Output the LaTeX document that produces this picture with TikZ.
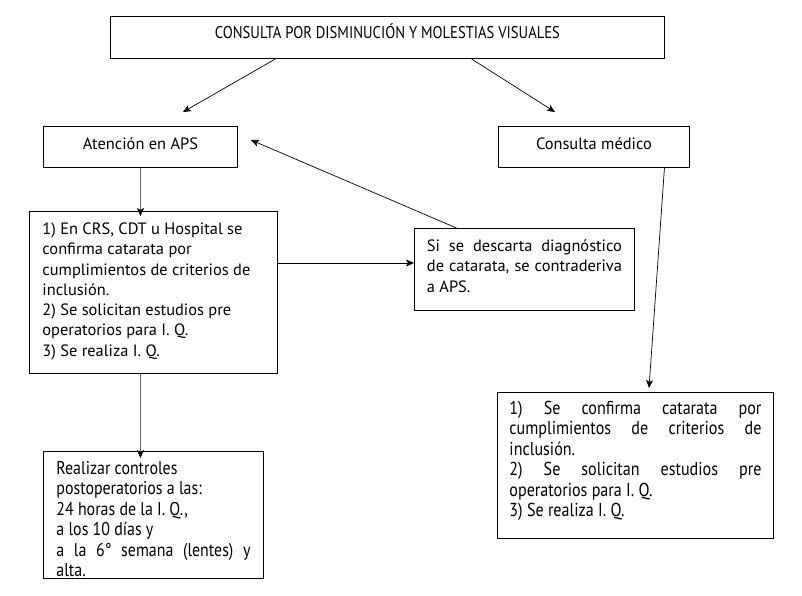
\documentclass[tikz,border=0pt]{standalone}
\usepackage{fontspec}
\setmainfont{PT Sans}
\newfontfamily\condf[FakeStretch=0.86]{PT Sans}
\usetikzlibrary{arrows.meta,calc}
\newcommand{\bx}[4]{\parbox[c][#2][t]{#1}{\rule{0pt}{#3}#4}}
\begin{document}
\begin{tikzpicture}[x=1pt,y=-1pt,
  boxn/.style={draw=black,line width=0.9pt,anchor=north west,inner ysep=0pt,inner xsep=0pt},
  arr/.style={-{Stealth[length=8pt,width=7pt,inset=2pt]},line width=0.7pt},
  garr/.style={-{Stealth[length=8pt,width=7pt,inset=2pt,color=black,line width=0.7pt]},line width=1.4pt,draw=black!60}]
\useasboundingbox (0,0) rectangle (802,596);
\fontsize{16.4}{20.3}\selectfont
% boxes
\node[boxn] (top) at (110,16)
  {\bx{554pt}{42pt}{22pt}{\centering\condf\fontsize{17}{20.3}\selectfont CONSULTA POR DISMINUCIÓN Y MOLESTIAS VISUALES}};
\node[boxn] (aps) at (43,126)
  {\bx{194pt}{41pt}{23pt}{\centering Atención en APS}};
\node[boxn] (med) at (498,126)
  {\bx{191pt}{41pt}{23pt}{\centering Consulta médico}};
\node[boxn,inner xsep=13pt] (box1) at (29,211)
  {\bx{222pt}{162pt}{23pt}{\raggedright 1) En CRS, CDT u Hospital se\\
   confirma catarata por\\
   cumplimientos de criterios de\\
   inclusión.\\
   2) Se solicitan estudios pre\\
   operatorios para I. Q.\\
   3) Se realiza I. Q.}};
\node[boxn,inner xsep=12.5pt] (desc) at (414,228)
  {\bx{195pt}{82pt}{23pt}{\hfuzz=20pt Si se descarta diagnóstico\linebreak
   de catarata, se contraderiva\linebreak
   a APS.}};
\node[boxn,inner xsep=12pt] (conf) at (497,392)
  {\bx{252pt}{146pt}{22pt}{\condf\fontsize{18.7}{20.4}\selectfont 1) Se confirma catarata por\linebreak
   cumplimientos de criterios de\linebreak
   inclusión.\\
   2) Se solicitan estudios pre\linebreak
   operatorios para I. Q.\\
   3) Se realiza I. Q.}};
\node[boxn,inner xsep=13pt] (ctrl) at (43,451)
  {\bx{194pt}{127pt}{23pt}{\condf\fontsize{18.5}{20.4}\selectfont Realizar controles\\
   postoperatorios a las:\\
   24 horas de la I. Q.,\\
   a los 10 días y\\
   a la 6° semana (lentes) y\linebreak
   alta.}};
% free ends
\coordinate (endA) at (183,112);
\coordinate (endB) at (555,112);
\coordinate (endC) at (251,140);
\coordinate (endD) at (649,388);
% connectors
\draw[arr] ([xshift=-112pt]top.south) -- (endA);
\draw[arr] ([xshift=84pt]top.south) -- (endB);
\draw[garr] (aps.south) -- ([yshift=-5pt]aps.south |- box1.north);
\draw[arr] (box1.east |- 0,263) -- (desc.west |- 0,263);
\draw[arr] ([xshift=-68pt]desc.north) -- (endC);
\draw[arr] ([xshift=70.5pt]med.south) -- (endD);
\draw[garr] (aps.south |- box1.south) -- ([yshift=-7pt]aps.south |- ctrl.north);
\end{tikzpicture}
\end{document}
